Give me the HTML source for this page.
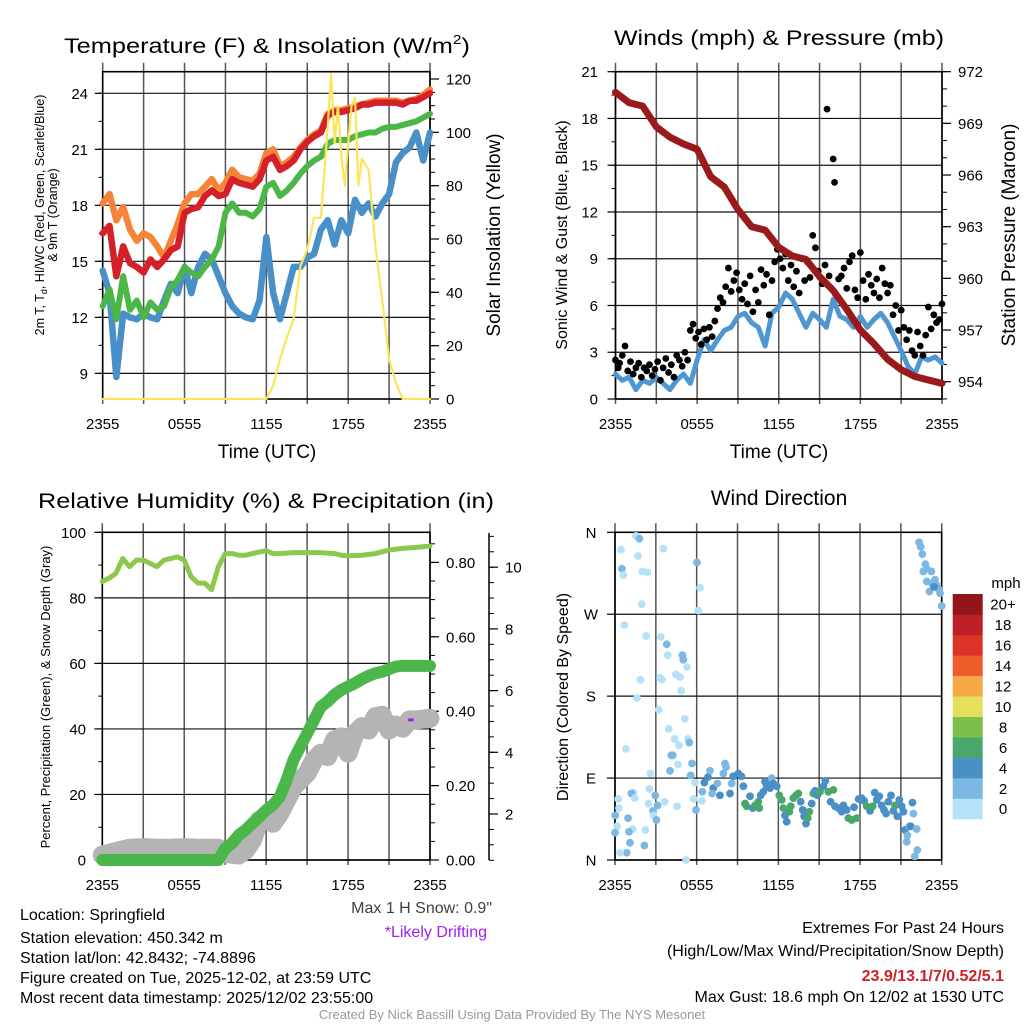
<!DOCTYPE html>
<html><head><meta charset="utf-8"><title>Mesonet Station Summary</title>
<style>
html,body{margin:0;padding:0;background:#fff;}
svg{display:block;font-family:"Liberation Sans",Arial,sans-serif;}
</style></head>
<body>
<svg id="chart" xmlns="http://www.w3.org/2000/svg" width="1024" height="1024" viewBox="0 0 1024 1024">
<rect x="0" y="0" width="1024" height="1024" fill="#fff"/>
<text x="267" y="53" font-size="21" text-anchor="middle" textLength="406" lengthAdjust="spacingAndGlyphs">Temperature (F) &amp; Insolation (W/m<tspan font-size="13" dy="-9">2</tspan><tspan dy="9">)</tspan></text>
<text x="779" y="45" font-size="21" text-anchor="middle" textLength="330" lengthAdjust="spacingAndGlyphs">Winds (mph) &amp; Pressure (mb)</text>
<text x="266" y="508" font-size="21" text-anchor="middle" textLength="456" lengthAdjust="spacingAndGlyphs">Relative Humidity (%) &amp; Precipitation (in)</text>
<text x="779" y="505" font-size="21" text-anchor="middle">Wind Direction</text>
<text x="267" y="458" font-size="19" text-anchor="middle">Time (UTC)</text>
<text x="779" y="458" font-size="19" text-anchor="middle">Time (UTC)</text>
<text transform="translate(44,215) rotate(-90)" font-size="12.5" text-anchor="middle">2m T, T<tspan font-size="9" dy="3">d</tspan><tspan dy="-3">, HI/WC (Red, Green, Scarlet/Blue)</tspan></text>
<text transform="translate(57,215) rotate(-90)" font-size="12.5" text-anchor="middle">&amp; 9m T (Orange)</text>
<text transform="translate(500,235) rotate(-90)" font-size="19" text-anchor="middle">Solar Insolation (Yellow)</text>
<text transform="translate(567,235) rotate(-90)" font-size="16" text-anchor="middle">Sonic Wind &amp; Gust (Blue, Black)</text>
<text transform="translate(1015,235) rotate(-90)" font-size="19" text-anchor="middle">Station Pressure (Maroon)</text>
<text transform="translate(50,697) rotate(-90)" font-size="13" text-anchor="middle">Percent, Precipitation (Green), &amp; Snow Depth (Gray)</text>
<text transform="translate(568,697) rotate(-90)" font-size="16" text-anchor="middle">Direction (Colored By Speed)</text>
<g font-size="16" fill="#000">
<text x="20" y="920">Location: Springfield</text>
<text x="20" y="943">Station elevation: 450.342 m</text>
<text x="20" y="963">Station lat/lon: 42.8432; -74.8896</text>
<text x="20" y="983">Figure created on Tue, 2025-12-02, at 23:59 UTC</text>
<text x="20" y="1003">Most recent data timestamp: 2025/12/02 23:55:00</text>
<text x="492" y="913" text-anchor="end" fill="#404040">Max 1 H Snow: 0.9"</text>
<text x="487" y="937" text-anchor="end" fill="#a020f0">*Likely Drifting</text>
<text x="1004" y="933" text-anchor="end">Extremes For Past 24 Hours</text>
<text x="1004" y="956" text-anchor="end">(High/Low/Max Wind/Precipitation/Snow Depth)</text>
<text x="1004" y="981" text-anchor="end" fill="#cc2229" font-weight="bold">23.9/13.1/7/0.52/5.1</text>
<text x="1004" y="1002" text-anchor="end">Max Gust: 18.6 mph On 12/02 at 1530 UTC</text>
</g>
<text x="512" y="1019" font-size="13" text-anchor="middle" fill="#999">Created By Nick Bassill Using Data Provided By The NYS Mesonet</text>
</svg>
<script>
const timeTickLabels = ["2355","0555","1155","1755","2355"];
const halfHours = [0,0.5,1,1.5,2,2.5,3,3.5,4,4.5,5,5.5,6,6.5,7,7.5,8,8.5,9,9.5,10,10.5,11,11.5,12,12.5,13,13.5,14,14.5,15,15.5,16,16.5,17,17.5,18,18.5,19,19.5,20,20.5,21,21.5,22,22.5,23,23.5,24];
const temp9mOrange = [18.1,18.6,17.2,17.9,16.7,16.1,16.5,16.3,15.8,15.2,16.1,17.0,18.1,18.6,18.6,19.0,19.4,18.8,19.2,19.9,19.5,19.4,19.3,19.7,20.8,21.0,20.1,20.3,20.6,21.1,21.5,21.8,22.0,22.9,23.1,23.1,23.2,23.3,23.4,23.5,23.6,23.6,23.6,23.6,23.5,23.6,23.7,23.9,24.2];
const temp2mRed = [16.5,16.9,14.2,15.8,14.9,14.7,14.4,15.1,14.7,15.1,15.6,15.8,17.6,17.8,17.9,18.5,18.8,18.5,18.6,19.4,19.2,19.1,19.0,19.4,20.4,20.6,19.9,20.1,20.4,21.0,21.4,21.7,21.9,22.8,23.0,23.0,23.1,23.2,23.4,23.4,23.5,23.5,23.5,23.5,23.4,23.6,23.6,23.8,24.0];
const dewpointGreen = [12.6,13.5,11.9,14.2,12.4,12.9,12.0,12.8,12.4,12.6,13.6,14.0,14.7,14.4,14.2,14.7,15.1,15.8,17.6,18.1,17.6,17.6,17.4,17.8,19.0,19.2,18.5,18.8,19.2,19.7,20.1,20.4,20.6,21.3,21.5,21.5,21.5,21.7,21.8,21.9,21.9,22.1,22.2,22.2,22.3,22.4,22.5,22.7,22.9];
const windChillBlue = [14.5,13.3,8.8,12.2,12.0,11.9,12.2,12.0,11.9,12.9,13.8,13.3,14.7,13.3,14.7,15.4,15.1,14.2,13.3,12.6,12.2,12.0,11.9,12.9,16.3,13.3,11.9,13.3,14.7,14.7,15.2,15.4,16.7,17.2,15.9,17.2,16.5,18.3,17.6,18.1,17.4,18.1,18.6,20.3,20.8,21.1,21.9,20.4,21.9];
const tempTicks = [9,12,15,18,21,24];
const solarHours = [0,12,12.5,13,13.5,14,14.5,15,15.5,16,16.5,16.75,17,17.25,17.5,17.75,18,18.25,18.5,18.75,19,19.5,20,20.5,21,21.5,22,24];
const solarValues = [0,0,5,15,23,30,50,56,68,68,102,122,96,110,91,80,96,110,113,80,90,86,57,37,15,6,0,0];
const solarTicks = [0,20,40,60,80,100,120];

const sonicWind = [1.6,1.2,1.4,0.6,1.2,1.0,1.4,1.0,0.6,1.2,1.6,1.0,2.5,3.8,3.1,3.8,4.4,4.6,5.3,5.5,4.9,4.6,3.4,5.5,5.9,6.8,6.4,5.5,4.6,5.5,5.1,4.6,6.4,5.3,5.1,4.6,5.3,4.6,5.1,5.5,4.9,4.0,3.1,2.1,1.6,2.7,2.5,2.7,2.3];
const gustHours = [0.0,0.2,0.3,0.5,0.7,0.9,1.1,1.3,1.5,1.7,1.9,2.1,2.3,2.5,2.7,2.9,3.1,3.3,3.5,3.7,3.9,4.1,4.3,4.5,4.7,4.9,5.1,5.3,5.5,5.7,5.9,6.1,6.3,6.5,6.7,6.9,7.1,7.3,7.5,7.7,7.9,8.1,8.3,8.5,8.7,8.9,9.1,9.3,9.5,9.7,9.9,10.1,10.3,10.5,10.7,10.9,11.1,11.3,11.5,11.7,11.9,12.1,12.3,12.5,12.7,12.9,13.1,13.3,13.5,13.7,13.9,14.1,14.3,14.5,14.7,14.9,15.2,15.4,15.55,15.7,16.0,16.1,16.2,16.4,16.6,16.8,17.0,17.2,17.4,17.6,17.8,18.0,18.2,18.4,18.6,18.8,19.0,19.2,19.4,19.6,19.8,20.0,20.2,20.4,20.6,20.8,21.0,21.2,21.4,21.6,21.8,22.0,22.2,22.4,22.6,22.8,23.0,23.2,23.4,23.6,23.8,24.0];
const gustValues = [2.5,2.0,2.3,2.8,3.4,1.8,2.4,1.6,2.0,2.3,1.4,2.0,1.8,2.2,1.5,1.9,2.4,1.2,2.0,2.6,1.7,2.2,1.4,2.8,2.5,2.1,3.0,2.5,4.4,4.8,3.9,4.3,3.5,4.5,3.8,4.6,4.0,5.0,5.8,6.5,6.2,7.2,8.4,6.9,7.6,8.1,7.0,6.4,7.4,6.1,7.9,5.6,7.0,6.2,8.3,7.3,8.0,5.4,7.6,8.8,9.6,9.0,8.4,9.3,7.6,8.6,7.2,8.2,6.8,9.0,7.6,8.8,7.8,10.5,9.7,8.2,7.4,8.6,18.6,7.9,15.4,13.9,6.7,7.7,7.9,8.4,7.1,8.8,9.2,7.0,6.5,9.4,7.6,6.4,8.0,7.3,6.8,7.7,6.5,8.4,7.4,6.8,7.3,5.4,6.0,4.4,5.7,4.6,3.8,4.4,3.1,2.8,4.3,3.4,2.8,4.1,5.9,4.5,5.4,4.9,5.1,6.1];
const pressureHours = [0,1,2,3,4,5,6,7,8,9,10,11,12,13,14,15,16,17,18,19,20,21,22,23,24];
const pressureValues = [970.8,970.2,970.0,968.8,968.2,967.8,967.5,965.9,965.3,964.0,963.0,962.8,961.8,961.3,961.1,960.1,959.3,958.2,957.0,956.2,955.3,954.7,954.3,954.1,953.9];
const windTicks = [0,3,6,9,12,15,18,21];
const pressureTicks = [954,957,960,963,966,969,972];

const rhHours = [0,0.5,1,1.5,2,2.5,3,3.5,4,4.5,5,5.5,6,6.5,7,7.5,8,8.5,9,9.5,10,10.5,11,11.5,12,12.5,13,14,15,16,17,17.5,18,19,20,21,22,23,24];
const rhValues = [85,86,87.5,92,89.5,91.5,91.5,90.5,89.5,91.5,92,92.5,91.5,86.5,84.5,84.5,82.5,89.5,93.5,93.5,93,93,93.5,94,94.4,93.5,93.5,93.8,93.8,93.8,93.5,93,92.8,93,93.5,94.6,95.1,95.4,95.8];
const precipHours = [0,8.5,9,9.5,10,10.5,11,11.5,12,12.5,13,13.5,14,14.5,15,15.5,16,16.5,17,17.5,18,18.5,19,19.5,20,20.5,21,21.5,22,24];
const precipValues = [0,0,0.031,0.045,0.067,0.081,0.099,0.116,0.134,0.148,0.17,0.215,0.269,0.305,0.34,0.376,0.412,0.426,0.444,0.457,0.466,0.475,0.486,0.495,0.502,0.506,0.513,0.52,0.522,0.522];
const snowHours = [0,1,2,3,4,5,6,7,8,8.5,9,10,10.5,11,11.5,12,12.5,13,13.5,14,14.5,15,15.5,16,16.5,17,17.5,18,18.5,19,19.5,20,20.5,21,21.5,22,22.5,23,24];
const snowValues = [0.67,0.78,0.89,0.91,0.89,0.89,0.91,0.89,0.89,0.89,0.72,0.67,0.83,1.16,1.8,1.9,1.7,2.02,2.45,2.88,3.1,3.32,3.75,3.97,3.86,4.4,4.5,3.97,4.61,4.83,4.72,5.15,5.2,4.72,4.88,4.78,5.05,5.05,5.1];
const driftHour = [22.6];
const driftSnow = [5.05];
const percentTicks = [0,20,40,60,80,100];
const precipTicks = [0,0.2,0.4,0.6,0.8];
const snowTicks = [2,4,6,8,10];

const windDirHours = [0.44,0.51,0.61,1.54,1.79,1.69,2.01,2.38,1.96,0.69,2.28,3.55,3.36,3.80,3.87,4.95,5.02,5.29,4.46,4.78,3.31,3.45,1.86,4.87,1.62,3.21,5.12,3.94,4.38,4.70,5.36,5.46,0.81,4.14,4.24,4.63,5.66,4.04,2.60,5.56,6.02,6.25,6.12,5.88,2.52,1.35,1.20,1.45,0.24,2.96,0.29,3.65,2.47,3.13,4.56,5.78,5.95,2.79,2.84,0.02,0.96,3.04,0.15,1.30,1.03,0.0,2.23,1.10,2.16,0.86,0.37,5.22,
6.42,6.39,6.56,6.83,6.98,7.22,7.13,7.52,7.71,7.96,8.08,8.16,8.45,8.57,8.69,9.06,9.28,9.43,9.55,9.67,9.92,10.12,10.29,10.53,10.60,10.70,10.90,11.02,11.14,11.27,11.39,11.51,11.63,11.88,12.07,12.25,12.37,12.49,12.61,12.81,12.91,13.10,13.30,13.47,13.64,13.79,13.89,14.03,14.16,14.28,14.45,14.57,14.70,14.87,15.06,15.31,15.45,15.67,15.84,16.04,16.16,16.41,16.65,16.78,17.02,17.14,17.39,17.56,17.76,17.90,18.12,18.30,18.49,18.74,18.93,19.08,19.23,19.42,19.59,19.76,19.91,20.08,20.28,20.45,20.57,20.74,20.89,21.06,21.19,
21.31,21.48,21.43,21.63,21.72,21.85,21.92,22.16,22.21,22.02,22.34,22.46,22.58,22.80,22.65,22.90,23.24,22.90,23.10,23.27,23.51,23.63,23.76,23.88,24.0,23.44];
const windDirDeg = [341,320,313,356,353,334,317,316,281,258,246,342,245,237,225,225,220,212,204,201,200,198,198,186,178,165,155,144,133,126,133,129,122,115,115,105,106,98,95,93,327,299,274,85,78,74,73,68,67,71,57,64,62,60,59,67,55,54,49,49,46,44,37,34,31,30,33,19,16,8,8,0,
75,65,85,91,98,79,73,84,71,95,106,102,73,84,92,95,92,81,62,59,70,57,60,64,57,71,75,86,81,84,79,90,84,81,71,66,57,49,42,53,59,68,71,73,64,55,48,40,46,53,62,73,76,71,75,81,87,75,64,77,59,57,53,60,55,46,44,58,46,67,68,65,59,54,59,74,66,70,60,55,51,64,71,54,60,48,66,59,53,
33,27,20,37,37,63,51,34,11,4,349,344,336,325,317,320,317,306,295,304,308,302,298,293,279,300];
const windDirSpeed = [1,3,1,1,3,1,1,1,1,1,1,1,1,3,1,3,3,1,1,1,1,1,1,1,1,1,1,1,1,1,1,3,1,3,3,1,3,3,1,3,3,1,1,1,1,1,3,1,1,3,1,1,1,3,1,1,3,3,1,3,3,3,1,1,3,3,1,3,3,3,1,1,
3,1,5,5,3,5,3,3,5,3,3,3,5,3,5,5,5,5,7,7,5,5,7,7,7,5,5,5,5,5,5,3,5,5,7,7,7,5,5,7,7,7,7,7,5,5,5,5,7,7,5,7,5,5,7,5,5,7,5,7,5,5,5,5,5,7,7,5,7,5,5,5,7,5,7,5,5,5,5,5,5,5,5,5,7,5,5,5,5,5,
3,3,3,5,5,3,3,3,3,3,3,3,3,3,3,3,3,3,3,3,3,3,3,3,5,3];
const dirTickDeg = [0,90,180,270,360];
const dirTickLabels = ["N","E","S","W","N"];
const speedBinLabels = ["0","2","4","6","8","10","12","14","16","18","20+"];
const speedBinColors = ["#b5e2f8","#7cb8e3","#4a8fc6","#4aa76b","#7cc04a","#e6df5a","#f5a846","#ef5d2c","#dc3329","#bc1f26","#921619"];

const NS = 'http://www.w3.org/2000/svg';
const svg = document.getElementById('chart');
function mk(tag, attrs, parent) {
  const e = document.createElementNS(NS, tag);
  for (const k in attrs) e.setAttribute(k, attrs[k]);
  (parent || svg).appendChild(e);
  return e;
}
function pathD(xs, ys, fx, fy) {
  let d = '';
  for (let i = 0; i < xs.length; i++) d += (i ? 'L' : 'M') + fx(xs[i]).toFixed(2) + ',' + fy(ys[i]).toFixed(2);
  return d;
}
function drawFrameAndGrid(P, hTicksY, name) {
  const g = mk('g', {});
  
  
  for (let i = 0; i <= 8; i++) {
    const x = P.fx(i * 3);
    const l = mk('line', {x1: x, x2: x, y1: P.top - 9, y2: P.bot + 5, stroke: '#555', 'stroke-width': 1.5}, g);
    
    
  }
  hTicksY.forEach(function (y) {
    const l = mk('line', {x1: P.x0, x2: P.x1, y1: y, y2: y, stroke: '#111', 'stroke-width': 1.2}, g);
    
    
  });
  const r = mk('rect', {x: P.x0, y: P.top, width: P.x1 - P.x0, height: P.bot - P.top, fill: 'none', stroke: '#000', 'stroke-width': 1.6}, g);
  
  
  timeTickLabels.forEach(function (lab, i) {
    const t = mk('text', {x: P.fx(i * 6), y: P.bot + 30, 'font-size': 15, 'text-anchor': 'middle'}, g);
    t.textContent = lab;
    
    
  });
}
function leftTicks(P, ticks, fy, minorStep, name, fmt, labelX) {
  const g = mk('g', {});
  
  
  ticks.forEach(function (v) {
    const y = fy(v);
    const l = mk('line', {x1: P.x0 - 8, x2: P.x0, y1: y, y2: y, stroke: '#000', 'stroke-width': 1.2}, g);
    
    
    const t = mk('text', {x: labelX, y: y + 5.5, 'font-size': 15, 'text-anchor': 'end'}, g);
    t.textContent = fmt(v);
    
    
  });
  if (minorStep) {
    for (let v = ticks[0] - minorStep; v <= ticks[ticks.length - 1] + minorStep; v += minorStep) {
      const y = fy(v);
      if (y < P.top - 0.5 || y > P.bot + 0.5) continue;
      const l = mk('line', {x1: P.x0 - 4, x2: P.x0, y1: y, y2: y, stroke: '#000', 'stroke-width': 1}, g);
      
      
    }
  }
}
function rightTicks(ax, ticks, fy, minorStep, name, fmt, top, bot) {
  const g = mk('g', {});
  
  
  ticks.forEach(function (v) {
    const y = fy(v);
    const l = mk('line', {x1: ax, x2: ax + 9, y1: y, y2: y, stroke: '#000', 'stroke-width': 1.2}, g);
    
    
    const t = mk('text', {x: ax + 16, y: y + 5.5, 'font-size': 15, 'text-anchor': 'start'}, g);
    t.textContent = fmt(v);
    
    
  });
  if (minorStep) {
    for (let v = ticks[0] - 20 * minorStep; v <= ticks[ticks.length - 1] + 20 * minorStep; v += minorStep) {
      const y = fy(v);
      if (y < top - 0.5 || y > bot + 0.5) continue;
      const l = mk('line', {x1: ax, x2: ax + 5, y1: y, y2: y, stroke: '#000', 'stroke-width': 1}, g);
      
      
    }
  }
}
function drawLine(xs, ys, fx, fy, color, w, name) {
  const p = mk('path', {d: pathD(xs, ys, fx, fy), fill: 'none', stroke: color, 'stroke-width': w, 'stroke-linejoin': 'round', 'stroke-linecap': 'round'});
  
  
  return p;
}

const P1 = {x0: 102.7, x1: 430, top: 71.7, bot: 399};
P1.fx = function (h) { return P1.x0 + h / 24 * (P1.x1 - P1.x0); };
const fyTemp = function (t) { return 93.3 + (24 - t) * 18.67; };
const fySolar = function (w) { return 399 - w * (320 / 120); };
drawFrameAndGrid(P1, tempTicks.map(fyTemp), 'temperature');
leftTicks(P1, tempTicks, fyTemp, 1.5, 'temperature', function (v) { return String(v); }, 88);
rightTicks(P1.x1, solarTicks, fySolar, 5, 'solar', function (v) { return String(v); }, P1.top, P1.bot);
drawLine(halfHours, windChillBlue, P1.fx, fyTemp, '#4a90c8', 6.5, 'wind-chill-line');
drawLine(halfHours, dewpointGreen, P1.fx, fyTemp, '#4cb748', 6, 'dewpoint-line');
drawLine(halfHours, temp9mOrange, P1.fx, fyTemp, '#f5843a', 6.5, 'temp-9m-line');
drawLine(halfHours, temp2mRed, P1.fx, fyTemp, '#d42029', 6.5, 'temp-2m-line');
drawLine(solarHours, solarValues, P1.fx, fySolar, '#fde55a', 2.2, 'solar-insolation-line');

const P2 = {x0: 615.5, x1: 942, top: 71.7, bot: 399};
P2.fx = function (h) { return P2.x0 + h / 24 * (P2.x1 - P2.x0); };
const fyWind = function (v) { return 399 - v * (327.3 / 21); };
const fyPres = function (p) { return 381.7 - (p - 954) * (51.67 / 3); };
drawFrameAndGrid(P2, windTicks.map(fyWind), 'winds');
leftTicks(P2, windTicks, fyWind, 1.5, 'wind-speed', function (v) { return String(v); }, 598);
rightTicks(P2.x1, pressureTicks, fyPres, 1, 'pressure', function (v) { return String(v); }, P2.top, P2.bot);
drawLine(halfHours, sonicWind, P2.fx, fyWind, '#4f97d2', 5, 'sonic-wind-line');
gustHours.forEach(function (h, i) {
  const c = mk('circle', {cx: P2.fx(h), cy: fyWind(gustValues[i]), r: 3.4, fill: '#000'});
  
  
});
drawLine(pressureHours, pressureValues, P2.fx, fyPres, '#9a1a1c', 7, 'pressure-line');

const P3 = {x0: 102.3, x1: 430, top: 532.3, bot: 860};
P3.fx = function (h) { return P3.x0 + h / 24 * (P3.x1 - P3.x0); };
const fyPct = function (v) { return 860 - v * 3.277; };
const fyPrecip = function (v) { return 860 - v * 372; };
const fySnow = function (v) { return 875.7 - v * 30.85; };
drawFrameAndGrid(P3, percentTicks.map(fyPct), 'humidity');
leftTicks(P3, percentTicks, fyPct, 10, 'percent', function (v) { return String(v); }, 86);
rightTicks(P3.x1, precipTicks, fyPrecip, 0.05, 'precip', function (v) { return v.toFixed(2); }, P3.top, P3.bot);
(function () {
  const l = mk('line', {x1: 489, x2: 489, y1: 533, y2: 860, stroke: '#000', 'stroke-width': 1.5});
  
  
})();
rightTicks(489, snowTicks, fySnow, 0.5, 'snow-depth', function (v) { return String(v); }, 533, 860);
drawLine(snowHours, snowValues, P3.fx, fySnow, '#b4b4b4', 19, 'snow-depth-line');
drawLine(precipHours, precipValues, P3.fx, fyPrecip, '#4bb649', 12, 'precipitation-line');
drawLine(rhHours, rhValues, P3.fx, fyPct, '#8cc84e', 5, 'relative-humidity-line');
driftHour.forEach(function (h, i) {
  const r = mk('rect', {x: P3.fx(h) - 3, y: fySnow(driftSnow[i]) - 1.5, width: 6, height: 3, fill: '#a020f0', rx: 1});
  
  
});

const P4 = {x0: 615, x1: 941.7, top: 532.3, bot: 860};
P4.fx = function (h) { return P4.x0 + h / 24 * (P4.x1 - P4.x0); };
const fyDir = function (d) { return 860 - d * (327.7 / 360); };
drawFrameAndGrid(P4, dirTickDeg.map(fyDir), 'wind-direction');
dirTickDeg.forEach(function (d, i) {
  const y = fyDir(d);
  const l = mk('line', {x1: P4.x0 - 8, x2: P4.x0, y1: y, y2: y, stroke: '#000', 'stroke-width': 1.2});
  
  
  const t = mk('text', {x: 591, y: y + 5.5, 'font-size': 15, 'text-anchor': 'middle'});
  t.textContent = dirTickLabels[i];
  
  
});
windDirHours.forEach(function (h, i) {
  const bin = Math.min(10, Math.floor(windDirSpeed[i] / 2));
  const c = mk('circle', {cx: P4.fx(h), cy: fyDir(windDirDeg[i]), r: 3.9, fill: speedBinColors[bin]});
  
  
});
(function () {
  const g = mk('g', {});
  
  
  const t0 = mk('text', {x: 1006, y: 588, 'font-size': 15, 'text-anchor': 'middle'}, g);
  t0.textContent = 'mph';
  
  
  const h = 20.45;
  speedBinLabels.forEach(function (lab, i) {
    const y = 594 + (10 - i) * h;
    const r = mk('rect', {x: 952.7, y: y, width: 30, height: h + 0.3, fill: speedBinColors[i]}, g);
    
    
    const t = mk('text', {x: 1003, y: y + h / 2 + 5.5, 'font-size': 15, 'text-anchor': 'middle'}, g);
    t.textContent = lab;
    
    
  });
})();
</script>
</body></html>
